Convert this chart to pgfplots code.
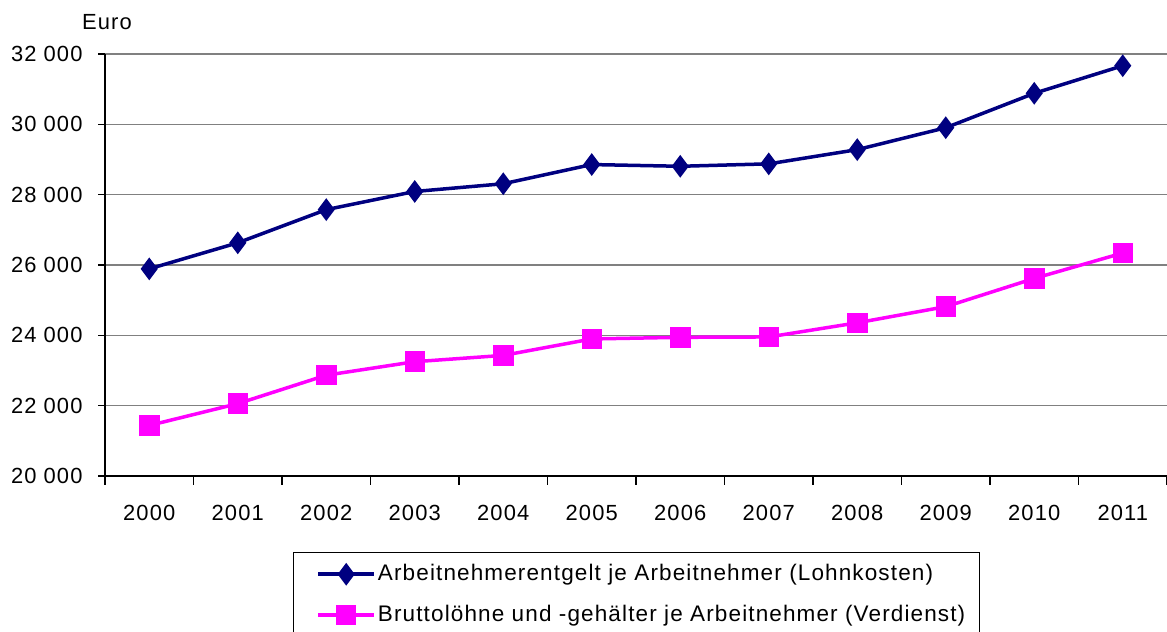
\documentclass[border=0pt]{standalone}
\usepackage{pgfplots}
\pgfplotsset{compat=1.18}
\usepackage{fontspec}
\setmainfont{Liberation Sans}[LetterSpace=5]
\definecolor{navyline}{RGB}{0,0,128}
\definecolor{magline}{RGB}{255,0,255}
\begin{document}
\fontsize{22}{26}\selectfont
\begin{tikzpicture}[x=1bp,y=1bp]
\useasboundingbox (0,0) rectangle (1167,632);
\node[font=\fontsize{22}{26}\selectfont] at (107,610) {Euro};
\begin{axis}[
  at={(105bp,156bp)}, anchor=south west,
  scale only axis, width=1062bp, height=422bp,
  xmin=-0.5, xmax=11.5, ymin=20000, ymax=32000,
  scaled y ticks=false,
  axis x line*=bottom, axis y line*=left,
  axis line style={black, line width=2bp},
  ytick={20000,22000,24000,26000,28000,30000,32000},
  yticklabels={20 000,22 000,24 000,26 000,28 000,30 000,32 000},
  xtick={0,...,11},
  xticklabels={2000,2001,2002,2003,2004,2005,2006,2007,2008,2009,2010,2011},
  minor xtick={-0.5,0.5,...,11.5},
  tick align=outside,
  major tick length=7bp, minor tick length=9bp,
  major x tick style={draw=none},
  ytick style={black, line width=1.5bp},
  minor x tick style={black, line width=1.5bp},
  ymajorgrids, major grid style={gray, line width=1.2bp},
  tick label style={font=\fontsize{22}{26}\selectfont},
  xticklabel style={yshift=-15bp},
  yticklabel style={xshift=-8bp},
  clip=false,
  legend style={at={(0.177,-0.180)}, anchor=north west, draw=black, line width=1bp,
    font=\fontsize{22.6}{26}\selectfont, inner xsep=12bp, inner ysep=10bp, row sep=17bp,
    cells={anchor=west}},
  legend image code/.code={\path (0bp,0bp); \draw[mark repeat=2,mark phase=2] plot coordinates {(11bp,0bp) (39bp,0bp) (67bp,0bp)};},
]
\addplot[navyline, line width=3.5bp, mark=diamond*, mark size=8.5bp, mark options={solid, fill=navyline}]
coordinates {(0,25890) (1,26630) (2,27574) (3,28090) (4,28310) (5,28856) (6,28807) (7,28876) (8,29280) (9,29903) (10,30882) (11,31666)};
\addlegendentry{Arbeitnehmerentgelt je Arbeitnehmer (Lohnkosten)}
\addplot[magline, line width=3.5bp, mark=square*, mark size=8.5bp, mark options={solid, fill=magline}]
coordinates {(0,21437) (1,22057) (2,22866) (3,23250) (4,23429) (5,23897) (6,23943) (7,23954) (8,24356) (9,24815) (10,25618) (11,26340)};
\addlegendentry{Bruttolöhne und -gehälter je Arbeitnehmer (Verdienst)}
\end{axis}
\end{tikzpicture}
\end{document}
